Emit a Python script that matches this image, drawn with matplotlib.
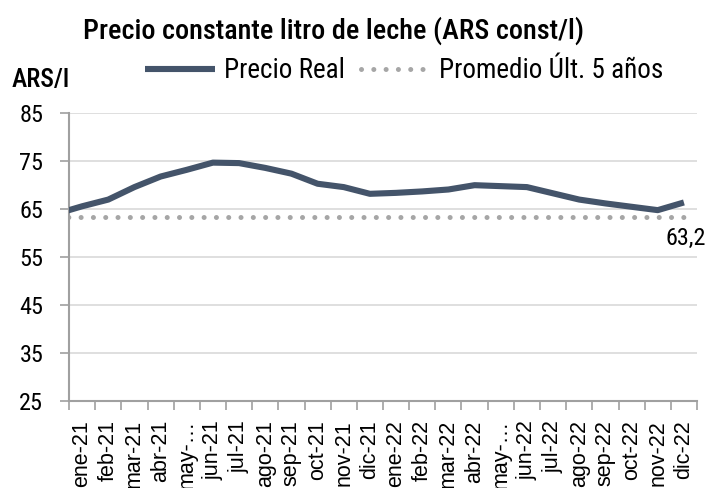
import matplotlib
matplotlib.use("Agg")
import matplotlib.pyplot as plt
import numpy as np

COND = ["Roboto Condensed", "Roboto", "DejaVu Sans"]
plt.rcParams["font.family"] = COND

categories = ["ene-21", "feb-21", "mar-21", "abr-21", "may-…", "jun-21", "jul-21",
              "ago-21", "sep-21", "oct-21", "nov-21", "dic-21", "ene-22", "feb-22",
              "mar-22", "abr-22", "may-…", "jun-22", "jul-22", "ago-22", "sep-22",
              "oct-22", "nov-22", "dic-22"]
precio_real = [65.5, 66.9, 69.5, 71.7, 73.1, 74.6, 74.5, 73.5, 72.3, 70.2, 69.5, 68.1,
               68.3, 68.6, 69.0, 69.9, 69.7, 69.5, 68.2, 66.9, 66.1, 65.4, 64.7, 66.3]
precio_real_dic20 = 63.9          # previous month, only partly visible at the left edge
promedio_5 = 63.2
promedio_label = "63,2"
y_ticks = [25, 35, 45, 55, 65, 75, 85]

fig = plt.figure(figsize=(7.13, 4.88), dpi=100)
ax = fig.add_axes([69/713, 1-400.7/488, (697-69)/713, (400.7-112.7)/488])

n = len(categories)
x = np.arange(n)
ax.set_xlim(-0.5, n - 0.5)
ax.set_ylim(25, 85)

xs = np.concatenate([[-1], x])
ys = [precio_real_dic20] + precio_real
line_color = "#44546a"
ax.plot(xs, ys, color=line_color, lw=4.4, solid_capstyle="butt",
        solid_joinstyle="round", label="Precio Real", zorder=3)
ax.plot(xs, [promedio_5] * len(xs), color="#a6a6a6", lw=3.6,
        linestyle=(0, (0.01, 2.45)), dash_capstyle="round",
        label="Promedio Últ. 5 años", zorder=2)

edges = np.arange(n + 1) - 0.5
ax.set_xticks(edges)
ax.set_xticklabels([])
ax.set_xticks(x, minor=True)
ax.set_xticklabels(categories, minor=True, rotation=90, fontsize=15.5,
                   family=["Liberation Sans", "DejaVu Sans"])
ax.tick_params(axis="x", which="major", length=6.5, width=1.2, color="#a0a0a0", direction="out")
ax.tick_params(axis="x", which="minor", length=0, pad=14)

ax.set_yticks(y_ticks)
ax.set_yticklabels([str(v) for v in y_ticks], fontsize=17.5)
ax.tick_params(axis="y", length=6.5, width=1.2, color="#a0a0a0", pad=12)

ax.grid(axis="y", color="#d9d9d9", lw=1.2)
ax.set_axisbelow(True)
for s in ["top", "right"]:
    ax.spines[s].set_visible(False)
for s in ["left", "bottom"]:
    ax.spines[s].set_color("#a0a0a0")
    ax.spines[s].set_linewidth(1.5)

ax.annotate(promedio_label, xy=(x[-1], promedio_5), xytext=(16, -7),
            textcoords="offset points", ha="right", va="top", fontsize=17.5)

fig.text(83/713, 1-31/488, "Precio constante litro de leche (ARS const/l)",
         fontsize=20.3, fontweight=500, ha="left", va="center")
fig.text(12/713, 1-80/488, "ARS/l", fontsize=18.5, fontweight=500,
         ha="left", va="center")

ax.legend(loc="center left", bbox_to_anchor=(145/713, 1-71/488),
          bbox_transform=fig.transFigure, ncol=2, frameon=False,
          prop={"family": COND, "size": 19.5},
          handlelength=2.6, handletextpad=0.3, columnspacing=0.6,
          borderaxespad=0, borderpad=0)

fig.savefig("out.png", dpi=100)
